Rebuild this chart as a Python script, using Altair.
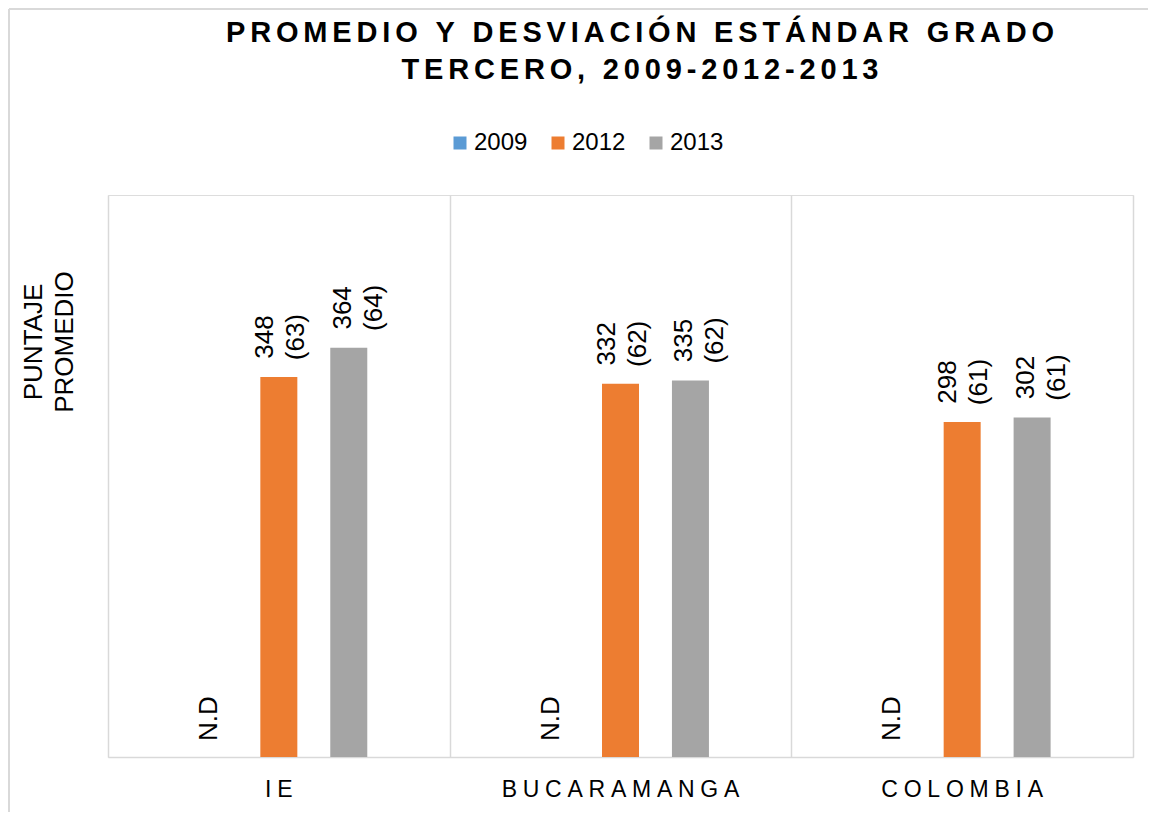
import altair as alt
import pandas as pd

# ---- data ----
categories = ["IE", "BUCARAMANGA", "COLOMBIA"]
years = ["2009", "2012", "2013"]
bar_2012 = [338, 332, 298]          # bar heights as drawn
bar_2013 = [364, 335, 302]
label_2012 = ["348\n(63)", "332\n(62)", "298\n(61)"]
label_2013 = ["364\n(64)", "335\n(62)", "302\n(61)"]
nd_text = "N.D"
colors = ["#5B9BD5", "#ED7D31", "#A5A5A5"]
title_lines = ["PROMEDIO Y DESVIACIÓN ESTÁNDAR GRADO", "TERCERO, 2009-2012-2013"]
y_title = "PUNTAJE\nPROMEDIO"

FONT = "Liberation Sans"
TSP = "\u2006"   # letter spacing for title
CSP = "\u2005"   # letter spacing for category labels
offset_domain = ["_l"] + years + ["_r"]  # empty slots at both band ends


def spaced(s, sp):
    return sp.join(list(s))


rows = []
for c, v, l in zip(categories, bar_2012, label_2012):
    rows.append({"cat": c, "year": "2012", "value": v, "label": l})
for c, v, l in zip(categories, bar_2013, label_2013):
    rows.append({"cat": c, "year": "2013", "value": v, "label": l})
df = pd.DataFrame(rows)
df_nd = pd.DataFrame({"cat": categories, "year": ["2009"] * 3, "value": [0] * 3, "label": [nd_text] * 3})
df_cat = pd.DataFrame({"cat": categories, "txt": [spaced(c, CSP) for c in categories]})
df_yt = pd.DataFrame({"t": [y_title]})
df_title = pd.DataFrame({"t": ["\n".join(spaced(t, TSP) for t in title_lines)]})

W, H = 1025, 562

x_enc = alt.X(
    "cat:N",
    sort=categories,
    scale=alt.Scale(domain=categories, paddingInner=0, paddingOuter=0),
    axis=alt.Axis(
        title=None,
        grid=True,
        gridColor="#d9d9d9",
        gridWidth=1.5,
        tickBand="extent",
        ticks=False,
        labels=False,
        domain=True,
        domainColor="#d9d9d9",
        domainWidth=1.5,
    ),
)
xo_enc = alt.XOffset(
    "year:N",
    sort=offset_domain,
    scale=alt.Scale(domain=offset_domain, paddingInner=0.471, paddingOuter=0.178),
)
y_enc = alt.Y("value:Q", scale=alt.Scale(domain=[0, 500], nice=False, zero=True), axis=None)

bars = alt.Chart(df).mark_bar().encode(
    x=x_enc,
    xOffset=xo_enc,
    y=y_enc,
    color=alt.Color(
        "year:N",
        scale=alt.Scale(domain=years, range=colors),
        legend=alt.Legend(
            title=None,
            orient="none",
            legendX=340,
            legendY=-64,
            direction="horizontal",
            symbolType="square",
            symbolSize=169,
            symbolStrokeWidth=0,
            labelFont=FONT,
            labelFontSize=24,
            labelColor="black",
            labelOffset=2,
            columnPadding=18,
        ),
    ),
)

lab_common = dict(angle=270, align="center", baseline="middle", fontSize=26,
                  lineBreak="\n", lineHeight=31, font=FONT, color="black", dx=40)

lab12 = alt.Chart(df[df.year == "2012"]).mark_text(dy=-14, **lab_common).encode(
    x=x_enc, xOffset=xo_enc, y=y_enc, text="label:N"
)
lab13 = alt.Chart(df[df.year == "2013"]).mark_text(dy=-6, **lab_common).encode(
    x=x_enc, xOffset=xo_enc, y=y_enc, text="label:N"
)
nd = alt.Chart(df_nd).mark_text(angle=270, align="left", baseline="middle", fontSize=26,
                                font=FONT, color="black", dx=16).encode(
    x=x_enc, xOffset=xo_enc, y=y_enc, text="label:N"
)

cat_labels = alt.Chart(df_cat).mark_text(align="center", baseline="alphabetic", fontSize=23,
                                         font=FONT, color="black").encode(
    x=x_enc, y=alt.value(H + 40), text="txt:N"
)

ytitle = alt.Chart(df_yt).mark_text(angle=270, align="center", baseline="middle", fontSize=26,
                                    lineBreak="\n", lineHeight=30.5, font=FONT, color="black").encode(
    x=alt.value(-74), y=alt.value(147), text="t:N"
)

title = alt.Chart(df_title).mark_text(align="center", baseline="alphabetic", fontSize=29,
                                      fontWeight="bold", lineBreak="\n", lineHeight=36.5,
                                      font=FONT, color="black").encode(
    x=alt.value(532), y=alt.value(-153), text="t:N"
)

border_left = alt.Chart(df_yt).mark_rule(color="#d9d9d9", strokeWidth=2).encode(
    x=alt.value(-99), y=alt.value(-186), y2=alt.value(H + 70)
)
border_top = alt.Chart(df_yt).mark_rule(color="#d9d9d9", strokeWidth=2).encode(
    x=alt.value(-99), x2=alt.value(W + 40), y=alt.value(-186)
)

chart = alt.layer(border_left, border_top, bars, lab12, lab13, nd, cat_labels, ytitle, title).properties(
    width=W,
    height=H,
    autosize=alt.AutoSizeParams(type="none"),
    padding={"left": 100, "top": 187, "right": 15, "bottom": 55},
).configure_view(strokeWidth=0).configure(background="white")

chart.save("out.html", embed_options={"renderer": "svg", "actions": False})
